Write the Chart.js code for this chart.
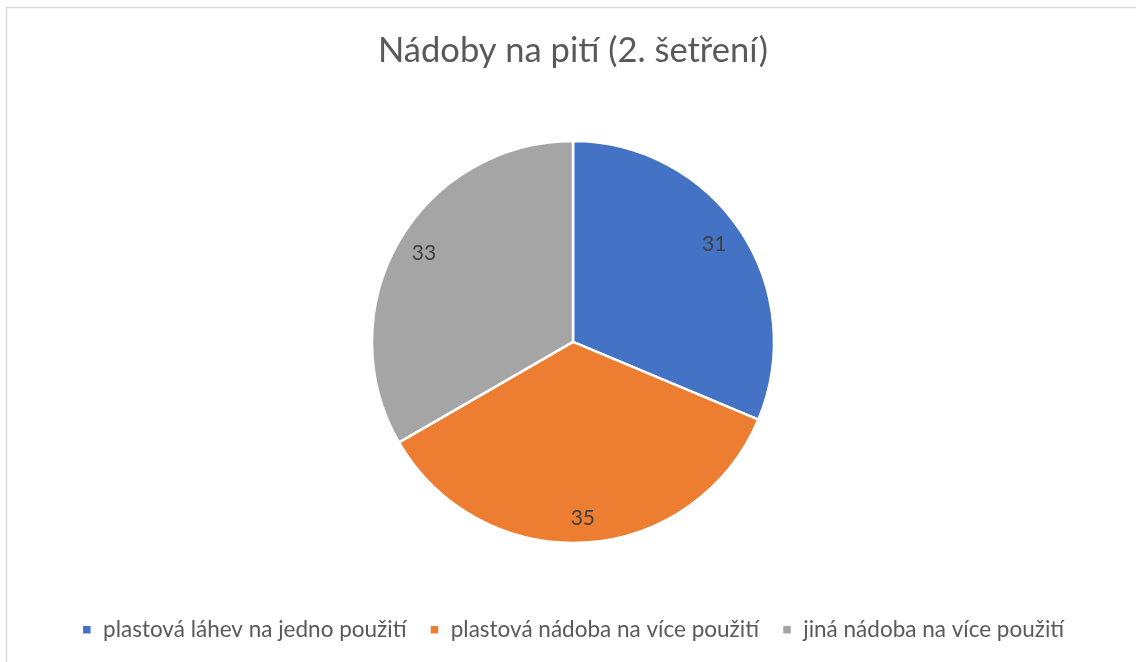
<!DOCTYPE html>
<html lang="cs">
<head>
<meta charset="UTF-8">
<title>Nádoby na pití (2. šetření)</title>
<style>
    html, body {
        margin: 0;
        padding: 0;
        background: #ffffff;
    }
    #chart-container {
        position: relative;
        width: 1137px;
        height: 662px;
    }
</style>
</head>
<body>
<div id="chart-container">
    <canvas id="pieChart"></canvas>
</div>

<script src="https://cdn.jsdelivr.net/npm/chart.js"></script>
<script>
    // data
    const categories = ['plastová láhev na jedno použití', 'plastová nádoba na více použití', 'jiná nádoba na více použití'];
    const values = [31, 35, 33];
    const colors = ['#4472C4', '#ED7D31', '#A5A5A5'];
    const chartTitle = 'Nádoby na pití (2. šetření)';

    const fontName = 'Lato, "Open Sans", sans-serif';

    // popisky hodnot uvnitř výsečí
    const valueLabels = {
        id: 'valueLabels',
        afterDatasetsDraw(chart) {
            const ctx = chart.ctx;
            const meta = chart.getDatasetMeta(0);
            ctx.save();
            ctx.font = '21px ' + fontName;
            ctx.fillStyle = '#404040';
            ctx.textAlign = 'center';
            ctx.textBaseline = 'middle';
            meta.data.forEach((arc, i) => {
                const p = arc.getProps(['x', 'y', 'startAngle', 'endAngle', 'outerRadius'], true);
                const mid = (p.startAngle + p.endAngle) / 2;
                const rx = p.outerRadius * 0.85;
                const ry = p.outerRadius * 0.88;
                ctx.fillText(values[i], p.x + Math.cos(mid) * rx - 1, p.y + Math.sin(mid) * ry);
            });
            ctx.restore();
        }
    };

    // rámeček grafu
    const frame = {
        id: 'frame',
        beforeDraw(chart) {
            const ctx = chart.ctx;
            ctx.save();
            ctx.strokeStyle = '#d9d9d9';
            ctx.lineWidth = 1.5;
            ctx.beginPath();
            ctx.moveTo(6.5, chart.height);
            ctx.lineTo(6.5, 7.5);
            ctx.lineTo(1136, 7.5);
            ctx.stroke();
            ctx.restore();
        }
    };

    const ctx = document.getElementById('pieChart').getContext('2d');
    new Chart(ctx, {
        type: 'pie',
        data: {
            labels: categories,
            datasets: [{
                data: values,
                backgroundColor: colors,
                borderColor: '#ffffff',
                borderWidth: 2.5
            }]
        },
        options: {
            responsive: true,
            maintainAspectRatio: false,
            animation: false,
            radius: 201,
            layout: {
                padding: { top: 30, bottom: 11, left: 9 }
            },
            plugins: {
                title: {
                    display: true,
                    text: chartTitle,
                    color: '#595959',
                    font: { family: fontName, size: 34.5, weight: 'normal' },
                    padding: { top: 0, bottom: 17 }
                },
                legend: {
                    position: 'bottom',
                    labels: {
                        color: '#595959',
                        font: { family: fontName, size: 22.5 },
                        boxWidth: 10,
                        boxHeight: 10,
                        padding: 23
                    }
                },
                tooltip: { enabled: false }
            }
        },
        plugins: [valueLabels, frame]
    });
</script>
</body>
</html>
